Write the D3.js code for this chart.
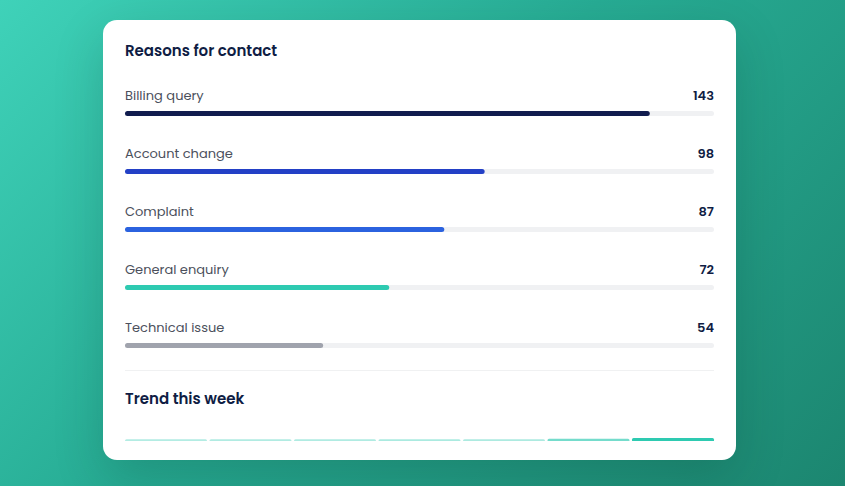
<!DOCTYPE html>
<html>
<head>
<meta charset="utf-8">
<script src="https://cdn.jsdelivr.net/npm/d3@7"></script>
<style>
  html, body { margin: 0; padding: 0; }
  body {
    width: 845px; height: 486px; overflow: hidden; position: relative;
    background: linear-gradient(135deg, #3fd2b9 0%, #27ac94 45%, #1c8670 100%);
    font-family: Poppins, "Open Sans", sans-serif;
  }
  .card {
    position: absolute; left: 103px; top: 20px; width: 633px; height: 440px;
    background: #fff; border-radius: 14px; overflow: hidden;
    box-shadow: 0 18px 50px rgba(0, 40, 30, 0.18);
  }
</style>
</head>
<body>
<div class="card" id="card"></div>
<script>
// reasons for contact
const reasons = ['Billing query', 'Account change', 'Complaint', 'General enquiry', 'Technical issue']
const counts = [143, 98, 87, 72, 54]
const reasonColors = ['#111c4e', '#2340c6', '#2b62df', '#2ecab1', '#a0a3ad']

// trend this week
const days = ['Mon', 'Tue', 'Wed', 'Thu', 'Fri', 'Sat', 'Sun']
const trend = [52, 53, 54, 57, 56, 94, 143]

const W = 633, H = 440
const padX = 22
const navy = '#0f1d44'

const svg = d3.select('#card').append('svg')
    .attr('width', W)
    .attr('height', H)
    .style('display', 'block')

svg.append('text')
    .attr('x', padX)
    .attr('y', 36)
    .attr('fill', navy)
    .attr('font-size', 15)
    .attr('font-weight', 600)
    .text('Reasons for contact')

// horizontal bar rows
const x = d3.scaleLinear().domain([0, 160.5]).range([0, W - 2 * padX])
const rowY = d3.scaleBand().domain(reasons).range([80, 370]).paddingInner(0)

const row = svg.append('g')
    .selectAll('g')
    .data(reasons)
    .join('g')
    .attr('transform', d => `translate(${padX},${rowY(d)})`)

row.append('text')
    .attr('fill', '#4b505c')
    .attr('font-size', 13)
    .text(d => d)

row.append('text')
    .attr('x', x.range()[1])
    .attr('text-anchor', 'end')
    .attr('fill', navy)
    .attr('font-size', 13)
    .attr('font-weight', 600)
    .text((d, i) => counts[i])

row.append('rect')
    .attr('y', 11)
    .attr('width', x.range()[1])
    .attr('height', 5)
    .attr('rx', 2.5)
    .attr('fill', '#f0f1f3')

row.append('rect')
    .attr('y', 11)
    .attr('width', (d, i) => x(counts[i]))
    .attr('height', 5)
    .attr('rx', 2.5)
    .attr('fill', (d, i) => reasonColors[i])

// divider
svg.append('line')
    .attr('x1', padX).attr('x2', W - padX)
    .attr('y1', 350.5).attr('y2', 350.5)
    .attr('stroke', '#f0f1f2')

svg.append('text')
    .attr('x', padX)
    .attr('y', 384)
    .attr('fill', navy)
    .attr('font-size', 15)
    .attr('font-weight', 600)
    .text('Trend this week')

// trend bars (cut off by the card bottom in the original)
const tx = d3.scaleBand().domain(days).range([padX, W - padX]).paddingInner(0.03)
const ty = d3.scaleLinear().domain([0, d3.max(trend)]).range([420, 418])
const shade = d3.scaleLinear().domain([0, d3.max(trend)]).range([0, 1])

svg.append('clipPath').attr('id', 'trendClip')
    .append('rect').attr('x', 0).attr('y', 400).attr('width', W).attr('height', 21)

svg.append('g')
    .attr('clip-path', 'url(#trendClip)')
    .selectAll('rect')
    .data(days)
    .join('rect')
    .attr('x', d => tx(d))
    .attr('y', (d, i) => ty(trend[i]))
    .attr('width', tx.bandwidth())
    .attr('height', 40)
    .attr('rx', 1.5)
    .attr('fill', '#2ecab1')
    .attr('fill-opacity', (d, i) => shade(trend[i]))
</script>
</body>
</html>
